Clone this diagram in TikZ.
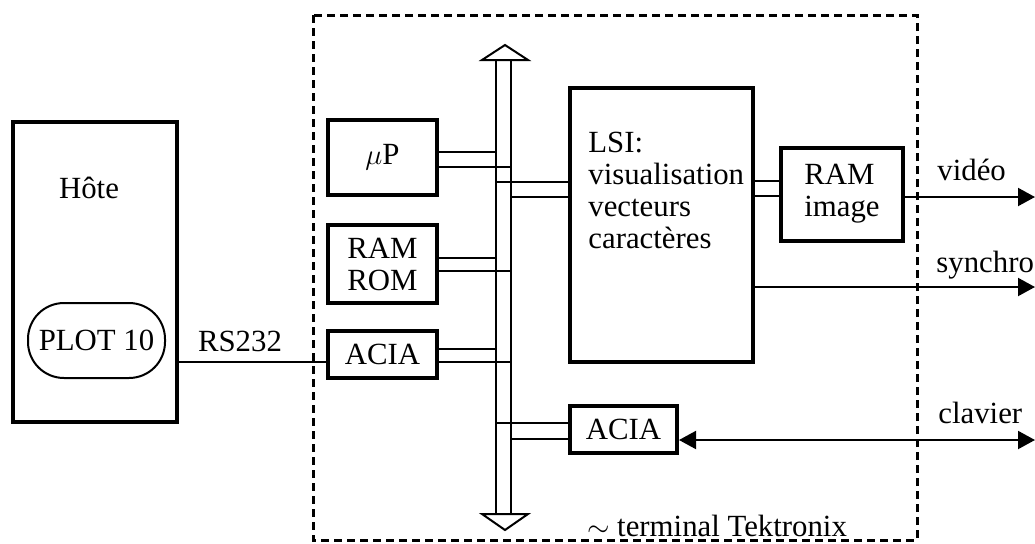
\documentclass[tikz,border=0pt]{standalone}
\usepackage{fontspec}
\setmainfont{Liberation Serif}
\usetikzlibrary{arrows.meta}

\begin{document}
\begin{tikzpicture}[
    x=0.5pt, y=-0.5pt,
    font=\fontsize{15.4}{16}\selectfont,
    bloc/.style={draw, line width=2pt, inner sep=0pt, align=center},
    liaison/.style={line width=1pt},
    fleche/.style={line width=1pt, -{Triangle[length=8.5pt,width=9pt]}},
    cadre/.style={line width=1.5pt, dash pattern=on 4pt off 2.5pt},
    busfleche/.style={draw, line width=1pt, fill=white}
]
    \useasboundingbox (0,0) rectangle (1035,543);

    % Terminal (cadre pointille)
    \draw[cadre] (313,15) rectangle (917,540);
    \node (term) at (717,526) {$\sim$ terminal Tektronix};

    % Hote
    \node[bloc, minimum width=82pt, minimum height=150pt] (host) at (95,272) {};
    \node (hote) at (89,188) {Hôte};
    \node[draw, line width=1pt, rounded corners=18pt, minimum width=68.5pt,
          minimum height=37.5pt, inner sep=0pt] (plot) at (96.5,340.5) {PLOT 10};

    % Bus
    \coordinate (busL) at (496,60);
    \coordinate (busR) at (511,60);
    \coordinate (busLb) at (496,514);
    \coordinate (busRb) at (511,514);
    \draw[liaison] (busL) -- (busLb);
    \draw[liaison] (busR) -- (busRb);
    \draw[busfleche] (482,60) -- (505,45) -- (528,60) -- cycle;
    \draw[busfleche] (482,514) -- (505,530) -- (528,514) -- cycle;

    % Blocs a gauche du bus
    \node[bloc, minimum width=54.5pt, minimum height=37.5pt] (up) at (382.5,157.5) {$\mu$P};
    \node[bloc, minimum width=54.5pt, minimum height=39pt] (mem) at (382.5,264) {RAM\\ROM};
    \node[bloc, minimum width=54.5pt, minimum height=23.5pt] (aciaL) at (382.5,354.5) {ACIA};

    \foreach \b/\ya/\yb in {up/152/167, mem/258/271, aciaL/349/362} {
        \draw[liaison] (\b.east |- 0,\ya) -- (busL |- 0,\ya);
        \draw[liaison] (\b.east |- 0,\yb) -- (busR |- 0,\yb);
    }

    % Liaison RS232
    \draw[liaison] (host.east |- 0,362) -- (aciaL.west |- 0,362);
    \node (rs) at (240,341) {RS232};

    % Blocs a droite du bus
    \node[bloc, minimum width=91.5pt, minimum height=137pt] (lsi) at (661.5,225) {};
    \node[anchor=north west, align=left, inner sep=0pt] (lsitxt) at (588,132)
        {LSI:\\visualisation\\vecteurs\\caractères};
    \node[bloc, minimum width=61pt, minimum height=46.5pt, align=left] (ramimg) at (842,194) {RAM\\image};
    \node[bloc, minimum width=53.5pt, minimum height=23.5pt] (aciaR) at (623.5,429) {ACIA};

    \foreach \b/\ya/\yb in {lsi/182/197, aciaR/423/439} {
        \draw[liaison] (busL |- 0,\ya) -- (\b.west |- 0,\ya);
        \draw[liaison] (busR |- 0,\yb) -- (\b.west |- 0,\yb);
    }
    \draw[liaison] (lsi.east |- 0,181) -- (ramimg.west |- 0,181);
    \draw[liaison] (lsi.east |- 0,196) -- (ramimg.west |- 0,196);

    % Sorties
    \coordinate (video) at (1035,197);
    \coordinate (synchro) at (1035,287);
    \coordinate (clavier) at (1035,440);
    \draw[fleche] (ramimg.east |- video) -- (video);
    \draw[fleche] (lsi.east |- synchro) -- (synchro);
    \draw[line width=1pt, {Triangle[length=8.5pt,width=9pt]}-{Triangle[length=8.5pt,width=9pt]}]
        (aciaR.east |- clavier) -- (clavier);
    \node[anchor=base west, inner sep=0pt] (lvideo) at (937,180) {vidéo};
    \node[anchor=base west, inner sep=0pt] (lsynchro) at (936,272) {synchro};
    \node[anchor=base west, inner sep=0pt] (lclavier) at (938,423) {clavier};
\end{tikzpicture}
\end{document}
